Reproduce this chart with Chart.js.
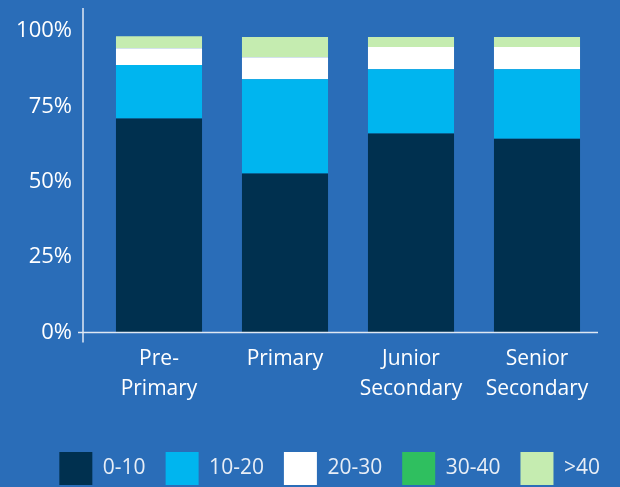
<!DOCTYPE html>
<html>
<head>
<meta charset="utf-8">
<script src="https://cdn.jsdelivr.net/npm/chart.js@4/dist/chart.umd.min.js"></script>
<style>
  body { margin: 0; background: #2a6db8; }
  #wrap { width: 620px; height: 487px; }
</style>
</head>
<body>
<div id="wrap"><canvas id="barChart" width="620" height="487"></canvas></div>
<script>
// categories and shares (%)
var categories = [['Pre-', 'Primary'], 'Primary', ['Junior', 'Secondary'], ['Senior', 'Secondary']];
var band0to10 = [71, 52.7, 66, 64.3];
var band10to20 = [17.7, 31.3, 21.3, 23];
var band20to30 = [5.6, 7.3, 7.4, 7.4];
var band30to40 = [0, 0, 0, 0];
var bandOver40 = [4, 6.7, 3.3, 3.3];
var yTicks = [0, 25, 50, 75, 100];

var fontFamily = '"Open Sans", "Noto Sans", sans-serif';

// white axis lines, y axis sits a bit left of the first bar slot
var axisLines = {
    id: 'axisLines',
    afterDraw: function (chart) {
        var a = chart.chartArea, ctx = chart.ctx;
        var yx = a.left - 13;
        ctx.save();
        ctx.strokeStyle = '#dfe8f3';
        ctx.lineWidth = 1.5;
        ctx.beginPath();
        ctx.moveTo(yx, 8);
        ctx.lineTo(yx, a.bottom + 10);
        ctx.moveTo(yx - 5, a.bottom);
        ctx.lineTo(a.right - 2, a.bottom);
        ctx.stroke();
        ctx.restore();
    }
};

var ctx = document.getElementById('barChart').getContext('2d');
var barChart = new Chart(ctx, {
    type: 'bar',
    data: {
        labels: categories,
        datasets: [
            { label: '0-10', data: band0to10, backgroundColor: '#00304f' },
            { label: '10-20', data: band10to20, backgroundColor: '#00b5ef' },
            { label: '20-30', data: band20to30, backgroundColor: '#ffffff' },
            { label: '30-40', data: band30to40, backgroundColor: '#2fbf5f' },
            { label: '>40', data: bandOver40, backgroundColor: '#c5ecb0' }
        ]
    },
    options: {
        responsive: false,
        animation: false,
        layout: { padding: { top: 31, right: 0, left: 0, bottom: -8 } },
        datasets: {
            bar: { categoryPercentage: 1, barPercentage: 0.683, borderWidth: 0 }
        },
        scales: {
            x: {
                stacked: true,
                grid: { display: false, drawTicks: false },
                border: { display: false },
                ticks: {
                    color: '#ffffff',
                    padding: 12,
                    maxRotation: 0,
                    font: { family: fontFamily, size: 21, lineHeight: 1.4 }
                },
                afterFit: function (s) { s.height = 99.5; }
            },
            y: {
                stacked: true,
                min: 0,
                max: 100,
                afterBuildTicks: function (s) { s.ticks = yTicks.map(function (v) { return { value: v }; }); },
                grid: { display: false, drawTicks: false },
                border: { display: false },
                ticks: {
                    color: '#ffffff',
                    padding: 24,
                    font: { family: fontFamily, size: 22 },
                    callback: function (v) { return v + '%'; }
                },
                afterFit: function (s) { s.width = 96; s.paddingTop = 0; s.paddingBottom = 0; }
            },
            // empty right strip so the plot ends at 600px while the legend can reach further
            yRight: {
                position: 'right',
                grid: { display: false, drawTicks: false },
                border: { display: false },
                ticks: { display: false },
                afterFit: function (s) { s.width = 20; s.paddingTop = 0; s.paddingBottom = 0; }
            }
        },
        plugins: {
            legend: {
                position: 'bottom',
                align: 'end',
                labels: {
                    boxWidth: 33,
                    boxHeight: 33,
                    padding: 20,
                    color: '#e8eef6',
                    font: { family: fontFamily, size: 21 }
                }
            },
            tooltip: { enabled: false }
        }
    },
    plugins: [axisLines]
});
</script>
</body>
</html>
